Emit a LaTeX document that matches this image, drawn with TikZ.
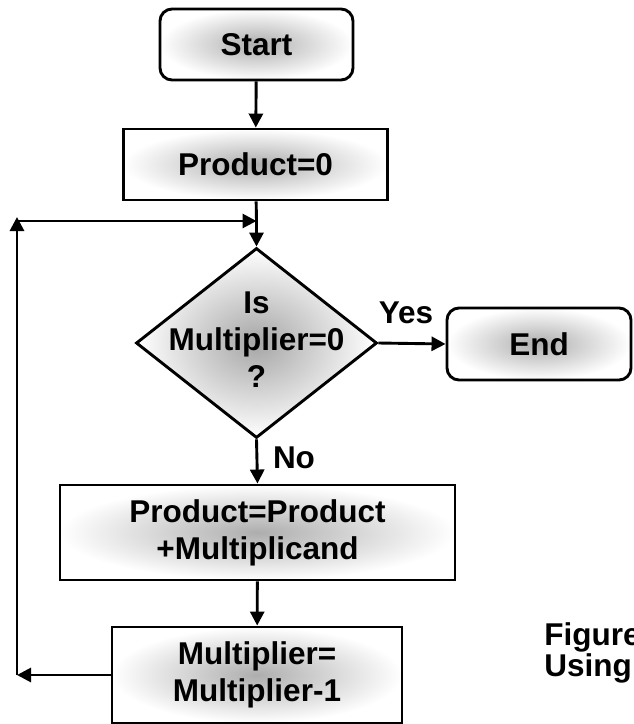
\documentclass[tikz,border=0pt]{standalone}
\usepackage{fontspec}
\setmainfont{Liberation Sans}
\usetikzlibrary{shapes.geometric,arrows.meta}
\begin{document}
\begin{tikzpicture}[x=1pt,y=-1pt,line width=2.9pt,
  lbl/.style={font=\bfseries\fontsize{31.5}{37}\selectfont,align=center,inner sep=0pt},
  box/.style={lbl,draw,rectangle,inner color=black!32,outer color=white},
  term/.style={box,rounded corners=12pt},
  decision/.style={draw,diamond,inner sep=0pt,inner color=black!35,outer color=white},
  arr/.style={-{Triangle[length=14pt,width=14pt]}}]
  \useasboundingbox (0,0) rectangle (633,724);

  % process steps
  \node[term,minimum width=193pt,minimum height=71pt] (start) at (256.5,44.5) {Start};
  \node[box,minimum width=264pt,minimum height=71pt] (init) at (255.5,164.5) {Product=0};
  \node[decision,minimum width=241pt,minimum height=190pt] (test) at (256.5,343) {};
  \node[lbl] (testtxt) at (256.5,340) {Is\\Multiplier=0\\?};
  \node[term,minimum width=184pt,minimum height=72pt] (end) at (539,344) {End};
  \node[box,minimum width=395pt,minimum height=95pt] (add) at (257.5,532.5) {Product=Product\\+Multiplicand};
  \node[box,minimum width=290pt,minimum height=96pt] (dec) at (257,675) {Multiplier=\\Multiplier-1};

  % branch labels
  \node[lbl] (yes) at (406,313) {Yes};
  \node[lbl] (no) at (294,458) {No};

  % caption, running off the right edge
  \node[lbl,anchor=base west] (cap1) at (543,645) {Figure};
  \node[lbl,anchor=base west] (cap2) at (543,676) {Using};

  % loop corners
  \coordinate (bl) at (17,681);
  \coordinate (tl) at (17,217);
  \coordinate (join) at (256.5,221);
  \coordinate (joinl) at (17,221);

  % connectors
  \draw[arr] (start) -- (init);
  \draw (init) -- (join);
  \draw[arr] (join) -- (test.north);
  \draw[arr] (test.east) -- (end.west);
  \draw[arr] (test.south) -- (add.north);
  \draw[arr] (add) -- (dec);
  \draw[arr] (dec.west) -- (dec.west -| bl);
  \draw[arr] (dec.west -| bl) -- (tl);
  \draw[arr] (joinl) -- (join);
\end{tikzpicture}
\end{document}
